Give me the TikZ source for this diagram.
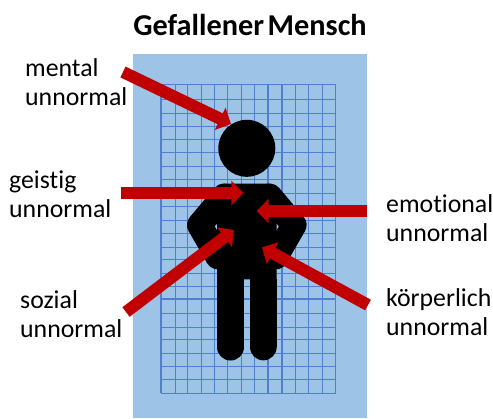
\documentclass[tikz,border=0pt]{standalone}
\usepackage{fontspec}
\setmainfont[Ligatures=NoCommon]{Carlito}
\usetikzlibrary{arrows.meta}
\definecolor{panel}{HTML}{9DC3E6}
\definecolor{gridblue}{HTML}{4F7FD0}
\definecolor{arrowred}{HTML}{C00000}
\tikzset{
  lab/.style={anchor=west,align=left,inner sep=0pt,font=\fontsize{25.8}{28.5}\selectfont},
  gridline/.style={draw=gridblue,line width=1.1pt},
  limb/.style={draw=black,line width=25pt,line join=round,line cap=round},
  redarrow/.style={draw=arrowred,line width=12pt,-{Triangle[length=12pt,width=24pt]}}
}
\begin{document}
\begin{tikzpicture}[x=1pt,y=-1pt]
\useasboundingbox (0,0) rectangle (493,418);
\fill[panel] (133,54) rectangle (367,418);
\foreach \gx in {161,175.3,187.3,201.3,214.3,227.7,241.7,254.7,268,282,295.7,308.3,322.3,335.7}
  \draw[gridline] (\gx,84.3) -- (\gx,393.3);
\foreach \gy in {84.3,99.7,113.3,126.3,139.3,152.7,166.3,179.3,193.3,206.7,220.3,233.3,247.3,259.3,273.3,286.3,299,313.3,327.3,339.7,353.3,366.3,379.3,393.3}
  \draw[gridline] (161,\gy) -- (335.7,\gy);
% figure
\fill (246.8,148.3) circle (28.5);
\fill (224,183.5) -- (269.6,183.5) -- (276.7,200) -- (276.7,279.3) -- (217,279.3) -- (217,200) -- cycle;
\draw[limb] (224,196) -- (199.5,225) -- (218,257);
\draw[limb] (269.6,196) -- (294.1,225) -- (275.6,257);
\fill (217,279) rectangle (244,347);
\fill (250,279) rectangle (276.7,347);
\fill (230.5,347) circle (13.5);
\fill (263.35,347) circle (13.35);
% arrows
\coordinate (a1s) at (123,72);   \coordinate (a1e) at (231,124);
\coordinate (a2s) at (121,193);  \coordinate (a2e) at (243.3,193);
\coordinate (a3s) at (367,211);  \coordinate (a3e) at (256.7,211);
\coordinate (a4s) at (126,312);  \coordinate (a4e) at (234,230);
\coordinate (a5s) at (368,305);  \coordinate (a5e) at (262,247.3);
\draw[redarrow] (a1s) -- (a1e);
\draw[redarrow] (a2s) -- (a2e);
\draw[redarrow] (a3s) -- (a3e);
\draw[redarrow] (a4s) -- (a4e);
\draw[redarrow] (a5s) -- (a5e);
% text
\node[inner sep=0pt,font=\fontsize{30.3}{32}\selectfont\bfseries] (title) at (250,25) {Gefallener\hspace{0.12em}Mensch};
\node[lab] (l1) at (25,82) {mental\\unnormal};
\node[lab] (l2) at (9,194) {geistig\\unnormal};
\node[lab] (l3) at (20,314) {sozial\\unnormal};
\node[lab] (l4) at (386,218) {emotional\\unnormal};
\node[lab] (l5) at (386,312) {körperlich\\unnormal};
\end{tikzpicture}
\end{document}
